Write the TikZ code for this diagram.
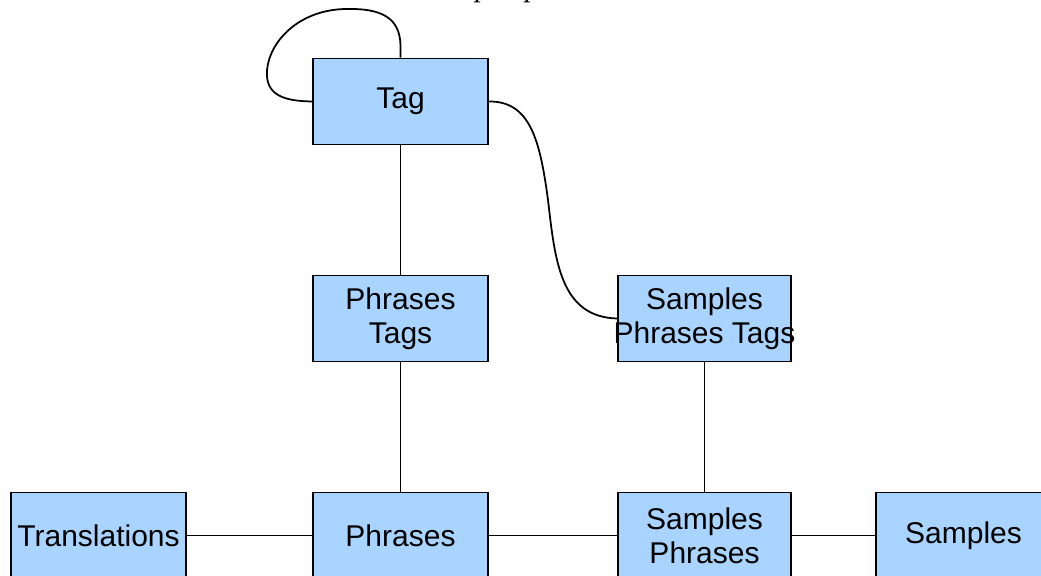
\documentclass[tikz,border=0pt]{standalone}
\usepackage{fontspec}
\setmainfont{Liberation Sans}
\newfontfamily\capfont{Liberation Serif}
\definecolor{boxfill}{RGB}{168,212,255}
\begin{document}
\begin{tikzpicture}[x=0.02cm,y=-0.02cm,
  entity/.style={draw=black, line width=1pt, fill=boxfill, rectangle,
    minimum width=3.5cm, minimum height=1.72cm, inner sep=0pt, align=center,
    font=\fontsize{17.07pt}{19.5pt}\selectfont},
  link/.style={draw=black, line width=1pt}]
\useasboundingbox (0,0) rectangle (1041,575);
\clip (0,0) rectangle (1041,575);
\node[anchor=base, font=\capfont\itshape\fontsize{17pt}{20pt}\selectfont, inner sep=0pt] (cap) at (508,-4) {p\hspace{1.17em}p};
\node[entity] (tag) at (400.5,101.5) {Tag};
\node[entity] (pt) at (400.5,318.5) {Phrases\\Tags};
\node[entity, minimum width=3.46cm] (spt) at (704.5,318.5) {Samples\\\makebox[3cm]{Phrases Tags}};
\node[entity] (tr) at (98.5,535.5) {Translations};
\node[entity] (ph) at (400.5,535.5) {Phrases};
\node[entity, minimum width=3.46cm] (sp) at (704.5,535.5) {Samples\\Phrases};
\node[entity] (sa) at (963.5,535.5) {Samples};
\draw[link] (tag) -- (pt);
\draw[link] (pt) -- (ph);
\draw[link] (spt) -- (sp);
\draw[link] (tr) -- (ph);
\draw[link] (ph) -- (sp);
\draw[link] (sp) -- (sa);
\draw[link] (tag.north) -- ++(0,-12) .. controls (400,18) and (382,8) .. (345,9)
  .. controls (300,10) and (270,40) .. (267,70)
  .. controls (265,96) and (285,101) .. (tag.west);
\draw[link] (tag.east) .. controls (530,101) and (540,140) .. (548,200)
  .. controls (555,260) and (560,317) .. (spt.west);
\end{tikzpicture}
\end{document}
